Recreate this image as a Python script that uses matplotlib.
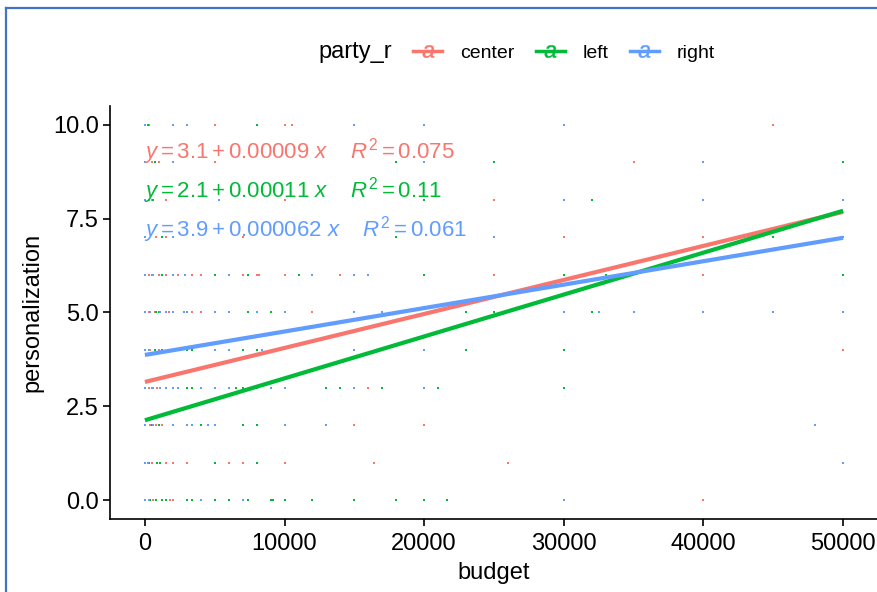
import matplotlib
matplotlib.use("Agg")
import matplotlib.pyplot as plt
from matplotlib.lines import Line2D
import numpy as np

plt.rcParams['font.family'] = ['Liberation Sans', 'DejaVu Sans']
plt.rcParams['mathtext.fontset'] = 'custom'
plt.rcParams['mathtext.rm'] = 'Liberation Sans'
plt.rcParams['mathtext.it'] = 'Liberation Sans:italic'

parties = ['center', 'left', 'right']
colors = ['#F8766D', '#00BA38', '#619CFF']

# points, one row per personalization score
center_rows = {
    10: [0, 300, 5000, 10000, 10500, 45000],
    9: [0, 500, 1000, 5000, 35000],
    8: [0, 500, 1500, 10000, 25000],
    7: [0, 800, 1500, 7000, 30000, 40000],
    6: [0, 300, 600, 1000, 1500, 2400, 3400, 4000, 7000, 8000, 8200, 10000, 14000, 25000, 40000],
    5: [0, 300, 700, 1700, 3400, 4000, 12000],
    4: [0, 400, 1000, 50000],
    3: [0, 300, 600, 900, 16000],
    2: [0, 400, 800, 1200, 15000, 20000],
    1: [0, 500, 1500, 2000, 3000, 5000, 6000, 7000, 10000, 16400, 26000],
    0: [0, 600, 1500, 1800, 2000, 40000],
}
left_rows = {
    10: [0, 200, 8000],
    9: [0, 700, 18000, 25000, 50000],
    8: [0, 600, 20000, 32000],
    7: [0, 1200, 18000, 45000],
    6: [0, 1200, 5000, 7400, 11000, 20000, 30000, 33000, 50000],
    5: [0, 800, 1000, 7400, 9000, 23000, 25000, 32000],
    4: [0, 700, 1200, 3000, 3400, 7000, 8000, 23000, 30000],
    3: [0, 3000, 3400, 5000, 6000, 6500, 7000, 13000, 14000, 17000, 21000, 30000],
    2: [0, 500, 1000, 4000, 7000, 8000],
    1: [0, 300, 900, 1100, 5000, 8000],
    0: [0, 400, 800, 1200, 1500, 3000, 3400, 5000, 6000, 7400, 9000, 9200, 10000, 12000, 15000, 18000, 20000, 21600],
}
right_rows = {
    10: [0, 2000, 3000, 15000, 20000, 30000],
    9: [0, 2000, 20000, 40000],
    8: [0, 300, 5300, 30000, 40000, 50000],
    7: [0, 2000, 25000, 50000],
    6: [0, 500, 2000, 2900, 6000, 12000, 15000, 16000],
    5: [0, 400, 1100, 1500, 2000, 2800, 3000, 5000, 6000, 8000, 10000, 15000, 17000, 30000, 32500, 35000, 40000, 45000, 50000],
    4: [0, 300, 2000, 5000, 6000, 8400, 15000, 20000],
    3: [0, 500, 1100, 1500, 2000, 2400, 4000, 5000, 6000, 8000, 9000, 10000, 15000, 20000],
    2: [0, 600, 2000, 3000, 3400, 4500, 5000, 10000, 13000, 48000],
    1: [0, 200, 50000],
    0: [0, 300, 4000, 7000, 30000],
}

# fitted lines (lm per party)
intercepts = [3.15, 2.13, 3.87]
slopes = [0.0000906, 0.0001116, 0.0000624]
eq_labels = [
    r'$\mathit{y} = 3.1 + 0.00009\ \mathit{x}\ \ \ \ \mathit{R}^{2} = 0.075$',
    r'$\mathit{y} = 2.1 + 0.00011\ \mathit{x}\ \ \ \ \mathit{R}^{2} = 0.11$',
    r'$\mathit{y} = 3.9 + 0.000062\ \mathit{x}\ \ \ \ \mathit{R}^{2} = 0.061$',
]

fig = plt.figure(figsize=(8.78, 5.92), dpi=100)
ax = fig.add_axes([110/878, 1 - 519/592, 768/878, 413/592])

handles = []
for rows, col in zip([center_rows, left_rows, right_rows], colors):
    xs = [x for y, row in rows.items() for x in row]
    ys = [y for y, row in rows.items() for x in row]
    ax.scatter(xs, ys, s=3, marker='s', color=col, linewidths=0, zorder=2)
for rows, col, b, m in zip([center_rows, left_rows, right_rows], colors, intercepts, slopes):
    xs = [x for y, row in rows.items() for x in row]
    xx = np.linspace(min(xs), max(xs), 50)
    ax.plot(xx, b + m * xx, color=col, lw=3, zorder=3, solid_capstyle='butt')
    handles.append(Line2D([], [], color=col, lw=2.5, marker='$a$', markersize=9,
                          markeredgewidth=0.3))

for i, (lab, col) in enumerate(zip(eq_labels, colors)):
    ax.text(0.044, 0.889 - i * 0.0935, lab, transform=ax.transAxes, color=col,
            fontsize=16, va='center', ha='left', zorder=4)

ax.set_xlim(-2500, 52500)
ax.set_ylim(-0.5, 10.5)
ax.set_xticks([0, 10000, 20000, 30000, 40000, 50000])
ax.set_yticks([0, 2.5, 5, 7.5, 10])
ax.set_yticklabels(['0.0', '2.5', '5.0', '7.5', '10.0'])
ax.tick_params(labelsize=17, length=5, width=1.2, colors='black', pad=3)
ax.tick_params(axis='x', pad=5)
ax.spines['top'].set_visible(False)
ax.spines['right'].set_visible(False)
for s in ['left', 'bottom']:
    ax.spines[s].set_linewidth(1.2)
ax.set_xlabel('budget', fontsize=17, labelpad=5)
ax.set_ylabel('personalization', fontsize=17, labelpad=7)

dummy = Line2D([], [], alpha=0)
leg = fig.legend([dummy] + handles, ['party_r'] + parties, loc='center',
                 bbox_to_anchor=(493/878, 1 - 52/592), ncol=4, frameon=False,
                 fontsize=14, handlelength=1.5, handletextpad=0.9, columnspacing=1.1)
leg.get_texts()[0].set_fontsize(17)

# screenshot frame
fig.add_artist(Line2D([6/878, 1], [1 - 8/592, 1 - 8/592], color='#4472C4', lw=1.6))
fig.add_artist(Line2D([6/878, 6/878], [0, 1 - 8/592], color='#4472C4', lw=1.6))

fig.savefig('out.png', dpi=100)
